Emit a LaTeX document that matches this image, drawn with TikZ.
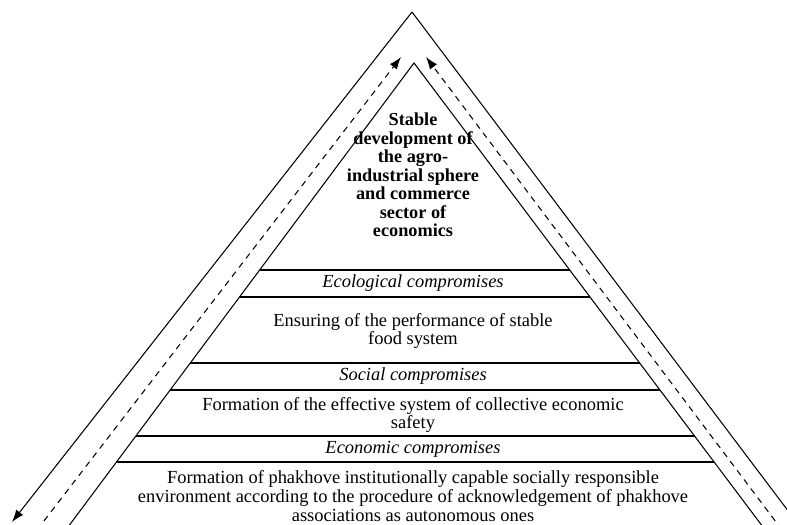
\documentclass[tikz,border=0pt]{standalone}
\usepackage{fontspec}
\setmainfont{Liberation Serif}
\usetikzlibrary{calc}
\usetikzlibrary{arrows.meta}

\begin{document}
\begin{tikzpicture}[x=0.02cm,y=-0.02cm,line width=0.6pt,
    >={Latex[length=7pt,width=5pt]},
    band/.style={line width=0.9pt},
    lbl/.style={align=center,inner sep=0pt,font=\fontsize{10.5}{10.8}\selectfont}]
            \useasboundingbox (0,0) rectangle (787,524);
            \clip (0,0) rectangle (787,524);
            % outer lines
            \coordinate (O) at (412,12);
            \coordinate (OL) at (12,522);
            \coordinate (OR) at (804,532);
            \draw[->] (O) -- (OL);
            \draw (O) -- (OR);
            % dashed arrows
            \coordinate (DL) at (401,57);
            \coordinate (DR) at (426,57);
            \coordinate (dl) at (37,530);
            \coordinate (dr) at (782,530);
            \draw[->,dash pattern=on 3.5pt off 3pt] (dl) -- (DL);
            \draw[->,dash pattern=on 3.5pt off 3pt] (dr) -- (DR);
            % inner pyramid
            \coordinate (A) at (414,63);
            \coordinate (IL) at (68,527);
            \coordinate (IR) at (763,527);
            \draw (IL) -- (A) -- (IR);
            \draw[band] ($(A)!0.446!(IL)$) -- ($(A)!0.446!(IR)$);
            \draw[band] ($(A)!0.504!(IL)$) -- ($(A)!0.504!(IR)$);
            \draw[band] ($(A)!0.647!(IL)$) -- ($(A)!0.647!(IR)$);
            \draw[band] ($(A)!0.705!(IL)$) -- ($(A)!0.705!(IR)$);
            \draw[band] ($(A)!0.804!(IL)$) -- ($(A)!0.804!(IR)$);
            \draw[band] ($(A)!0.860!(IL)$) -- ($(A)!0.860!(IR)$);
            % texts
            \node[lbl,font=\fontsize{10.4}{10.5}\selectfont\bfseries] (goal) at (413,175)
                {Stable\\development of\\the agro-\\industrial sphere\\and commerce\\sector of\\economics};
            \node[lbl,font=\fontsize{10.5}{10.8}\selectfont\itshape] (eco) at (413,283) {Ecological compromises};
            \node[lbl] (food) at (413,331) {Ensuring of the performance of stable\\food system};
            \node[lbl,font=\fontsize{10.5}{10.8}\selectfont\itshape] (soc) at (413,376) {Social compromises};
            \node[lbl] (safe) at (413,415) {Formation of the effective system of collective economic\\safety};
            \node[lbl,font=\fontsize{10.5}{10.8}\selectfont\itshape] (econ) at (413,449) {Economic compromises};
            \node[lbl] (base) at (413,496) {Formation of phakhove institutionally capable socially responsible\\environment according to the procedure of acknowledgement of phakhove\\associations as autonomous ones};
        \end{tikzpicture}
\end{document}
